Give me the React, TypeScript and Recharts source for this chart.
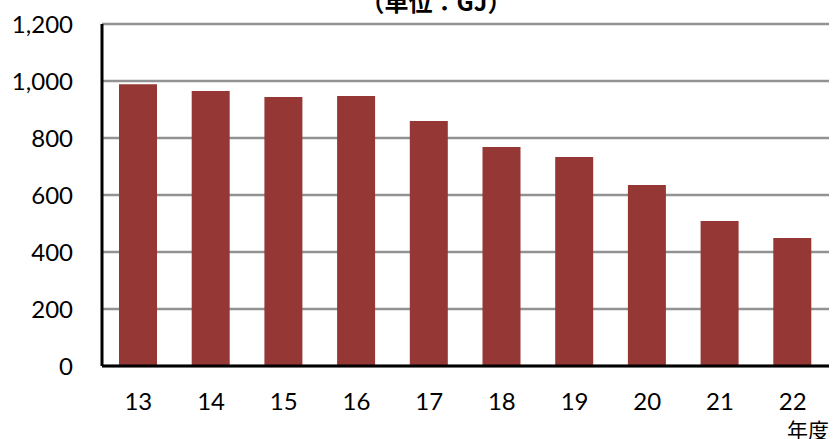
import { BarChart, Bar, XAxis, YAxis, CartesianGrid } from "recharts";

const years = ["13", "14", "15", "16", "17", "18", "19", "20", "21", "22"];
const energyGJ = [989, 965, 944, 947, 860, 768, 733, 635, 509, 449];
const yTicks = [0, 200, 400, 600, 800, 1000, 1200];

const data = years.map((year, i) => ({ year, value: energyGJ[i] }));

const font = "Lato, 'Noto Sans', sans-serif";
const tickStyle = { fill: "#000", fontSize: 24, fontFamily: font };

export default function App() {
  return (
    <div style={{ position: "absolute", left: 0, top: 0, width: 834, height: 439, background: "#fff" }}>
      <BarChart
        width={834}
        height={439}
        data={data}
        margin={{ top: 24, right: 5, bottom: 0, left: 0 }}
        barCategoryGap={0}
      >
        <CartesianGrid vertical={false} stroke="#929292" strokeWidth={2.5} />
        <XAxis
          dataKey="year"
          height={73}
          tickLine={false}
          tickSize={0}
          tickMargin={27}
          axisLine={{ stroke: "#000", strokeWidth: 3 }}
          tick={tickStyle}
        />
        <XAxis
          xAxisId="top"
          orientation="top"
          dataKey="year"
          height={0}
          tick={false}
          tickLine={false}
          axisLine={{ stroke: "#000", strokeWidth: 3 }}
        />
        <YAxis
          width={102}
          domain={[0, 1200]}
          ticks={yTicks}
          tickLine={false}
          tickSize={0}
          tickMargin={29}
          axisLine={{ stroke: "#000", strokeWidth: 3 }}
          tick={tickStyle}
          tickFormatter={(v: number) => v.toLocaleString("en-US")}
        />
        <YAxis
          yAxisId="right"
          orientation="right"
          width={0}
          domain={[0, 1200]}
          tick={false}
          tickLine={false}
          axisLine={{ stroke: "#000", strokeWidth: 3 }}
        />
        <Bar dataKey="value" fill="#953735" barSize={38} isAnimationActive={false} />
        <text
          x={436}
          y={11}
          textAnchor="middle"
          fontSize={24}
          fontWeight="bold"
          fontFamily="'Noto Sans CJK JP', sans-serif"
          fill="#000"
        >
          （単位：GJ）
        </text>
        <text x={787} y={438} fontSize={21} fontFamily="'Noto Sans CJK JP', sans-serif" fill="#000">
          年度
        </text>
      </BarChart>
    </div>
  );
}
